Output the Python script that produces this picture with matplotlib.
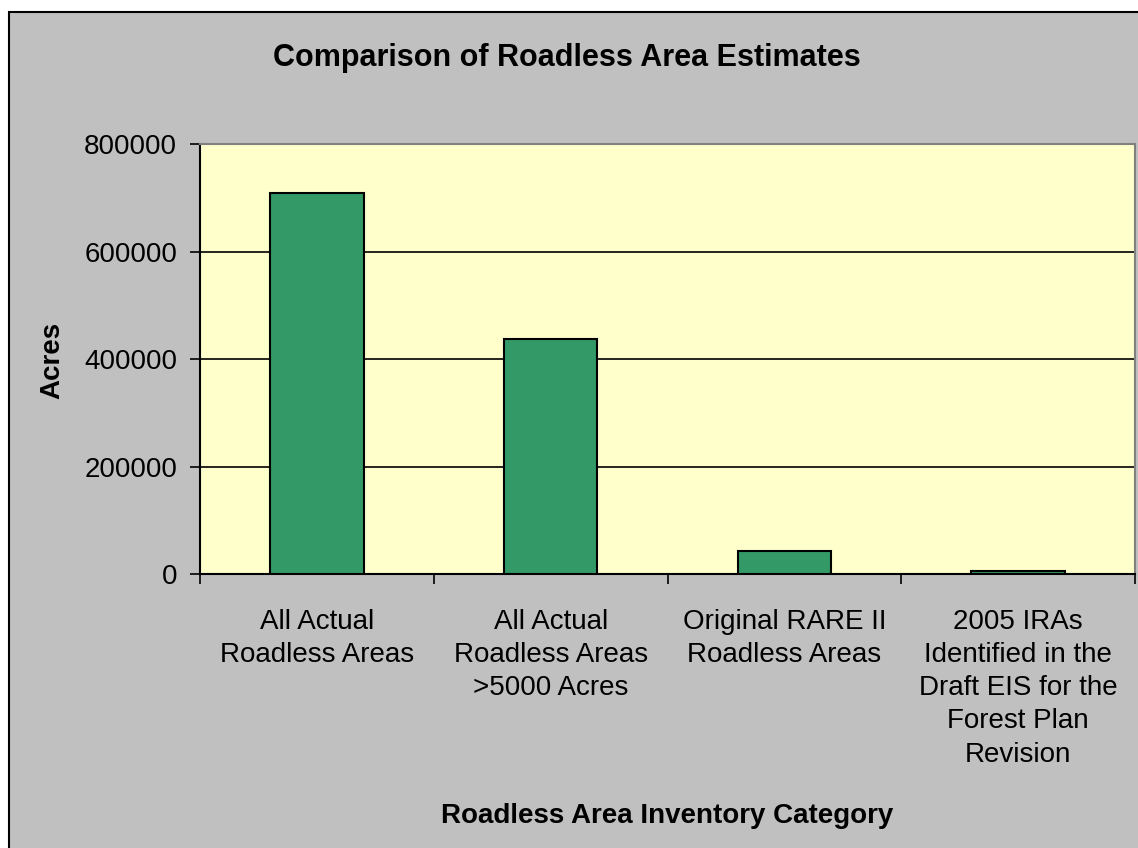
import matplotlib.pyplot as plt
from matplotlib.patches import Rectangle

categories = [
    "All Actual\nRoadless Areas",
    "All Actual\nRoadless Areas\n>5000 Acres",
    "Original RARE II\nRoadless Areas",
    "2005 IRAs\nIdentified in the\nDraft EIS for the\nForest Plan\nRevision",
]
acres = [709000, 437000, 43000, 6000]
y_ticks = [0, 200000, 400000, 600000, 800000]

plt.rcParams['font.family'] = ['Liberation Sans', 'DejaVu Sans']

fig = plt.figure(figsize=(11.38, 8.48), dpi=100)
fig.patch.set_facecolor('white')
# grey chart area with black frame (runs off the right / bottom edge)
fig.patches.append(Rectangle((9 / 1138, -0.01), 1.02, 1 - 12 / 848 + 0.01,
                             transform=fig.transFigure, facecolor='#C0C0C0',
                             edgecolor='black', linewidth=1.5, zorder=-10))

ax = fig.add_axes([200 / 1138, 1 - 574 / 848, 935 / 1138, 430 / 848])
ax.set_facecolor('#FFFFCC')

x = list(range(len(categories)))
ax.bar(x, acres, width=0.4, color='#339966', edgecolor='black', linewidth=1.5, zorder=3)

ax.set_xlim(-0.5, len(categories) - 0.5)
ax.set_ylim(0, 800000)
ax.set_yticks(y_ticks)
ax.set_yticklabels([str(v) for v in y_ticks], fontsize=20)
ax.yaxis.grid(True, color='black', linewidth=1.2, zorder=0)
ax.set_axisbelow(True)

# ticks between the categories, labels at the centres
ax.set_xticks([i - 0.5 for i in range(len(categories) + 1)])
ax.set_xticklabels([])
ax.set_xticks(x, minor=True)
ax.set_xticklabels(categories, minor=True, fontsize=20, linespacing=1.36)
ax.tick_params(axis='x', which='major', direction='out', length=7.5, width=1.2)
ax.tick_params(axis='x', which='minor', length=0, pad=25)
ax.tick_params(axis='y', direction='out', length=7.5, width=1.2, pad=9)

for side in ['left', 'bottom']:
    ax.spines[side].set_color('black')
    ax.spines[side].set_linewidth(1.5)
for side in ['top', 'right']:
    ax.spines[side].set_color('#808080')
    ax.spines[side].set_linewidth(1.5)

fig.text(567 / 1138, 1 - 58 / 848, "Comparison of Roadless Area Estimates",
         ha='center', va='center', fontsize=22, fontweight='bold')
fig.text(52 / 1138, 1 - 360 / 848, "Acres", rotation=90,
         ha='center', va='center', fontsize=20, fontweight='bold')
fig.text(667 / 1138, 1 - 816 / 848, "Roadless Area Inventory Category",
         ha='center', va='center', fontsize=20, fontweight='bold')

fig.savefig('out.png', dpi=100)
